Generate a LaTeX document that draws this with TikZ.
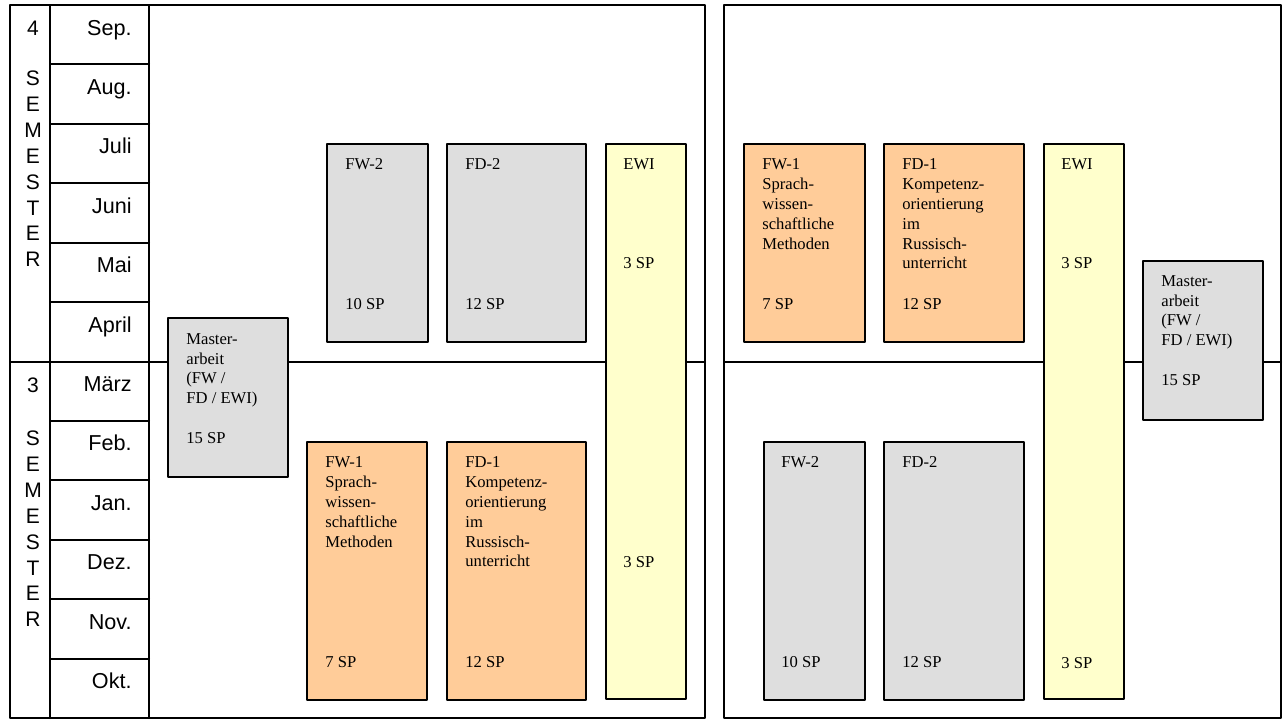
\documentclass[tikz,border=0pt]{standalone}
\usepackage{fontspec}
\setmainfont{Liberation Serif}
\newfontfamily\arial{Liberation Sans}
\definecolor{modgrau}{HTML}{DEDEDE}
\definecolor{modorange}{HTML}{FFCC99}
\definecolor{modgelb}{HTML}{FFFFCC}
\tikzset{
	rahmen/.style={draw=black, line width=1pt},
	modul/.style={draw=black, line width=1pt},
	txt/.style={anchor=north west, inner sep=0pt, align=left, font=\fontsize{8.3}{9.9}\selectfont},
	sp/.style={anchor=base west, inner sep=0pt, font=\fontsize{8.3}{9.9}\selectfont},
	monat/.style={anchor=base east, inner sep=0pt, font=\arial\fontsize{10.8}{12}\selectfont},
	buchst/.style={anchor=base, inner sep=0pt, font=\arial\fontsize{10.5}{12}\selectfont}
}
\begin{document}
\begin{tikzpicture}[x=0.5pt, y=-0.5pt, line join=round, line cap=round]
	\useasboundingbox (0,0) rectangle (1284,720);
	\def \rh{59.42};
	% Raster
	\draw[rahmen] (10,5) rectangle (705,718);
	\draw[rahmen] (724,5) rectangle (1281,718);
	\draw[rahmen] (50,5) -- (50,718) (149,5) -- (149,718);
	\draw[rahmen] (10,361.5) -- (705,361.5) (724,361.5) -- (1281,361.5);
	\foreach \i in {1,...,11}
		\draw[rahmen] (50,{5+\i*\rh}) -- (149,{5+\i*\rh});
	\foreach \m [count=\i] in {Sep.,Aug.,Juli,Juni,Mai,April,März,Feb.,Jan.,Dez.,Nov.,Okt.}
		\node[monat] (m\i) at (132,{5+(\i-1)*\rh+30}) {\m};
	\node[buchst] (sem4) at (33,35) {4};
	\node[buchst] (sem3) at (33,{5+6*\rh+31}) {3};
	\foreach \l [count=\i] in {S,E,M,E,S,T,E,R} {
		\node[buchst] (ob\i) at (33,{85.5+(\i-1)*25.9}) {\l};
		\node[buchst] (un\i) at (33,{445.5+(\i-1)*25.9}) {\l};
	}
	% linke Seite
	\draw[modul, fill=modgrau] (168,318) rectangle (288,477);
	\node[txt] (maa) at (186,333) {Master-\\arbeit\\(FW /\\FD / EWI)\\[9.9pt]15 SP};
	\draw[modul, fill=modgrau] (327,144) rectangle (428,342);
	\node[txt] (fw2a) at (345,158.5) {FW-2};
	\node[sp] (fw2a-sp) at (345,309) {10 SP};
	\draw[modul, fill=modgrau] (447,144) rectangle (586,342);
	\node[txt] (fd2a) at (465,158.5) {FD-2};
	\node[sp] (fd2a-sp) at (465,309) {12 SP};
	\draw[modul, fill=modgelb] (606,144) rectangle (686,699);
	\node[txt] (ewia) at (623,158.5) {EWI};
	\node[sp] (ewia-sp1) at (623,268) {3 SP};
	\node[sp] (ewia-sp2) at (623,567) {3 SP};
	\draw[modul, fill=modorange] (307,442) rectangle (427,700);
	\node[txt] (fw1a) at (325,456.5) {FW-1\\Sprach-\\wissen-\\schaftliche\\Methoden};
	\node[sp] (fw1a-sp) at (325,667) {7 SP};
	\draw[modul, fill=modorange] (447,442) rectangle (586,700);
	\node[txt] (fd1a) at (465,456.5) {FD-1\\Kompetenz-\\orientierung\\im\\Russisch-\\unterricht};
	\node[sp] (fd1a-sp) at (465,667) {12 SP};
	% rechte Seite
	\draw[modul, fill=modorange] (744,144) rectangle (865,342);
	\node[txt] (fw1b) at (762,158.5) {FW-1\\Sprach-\\wissen-\\schaftliche\\Methoden};
	\node[sp] (fw1b-sp) at (762,309) {7 SP};
	\draw[modul, fill=modorange] (884,144) rectangle (1024,342);
	\node[txt] (fd1b) at (902,158.5) {FD-1\\Kompetenz-\\orientierung\\im\\Russisch-\\unterricht};
	\node[sp] (fd1b-sp) at (902,309) {12 SP};
	\draw[modul, fill=modgelb] (1044,144) rectangle (1124,699);
	\node[txt] (ewib) at (1061,158.5) {EWI};
	\node[sp] (ewib-sp1) at (1061,268) {3 SP};
	\node[sp] (ewib-sp2) at (1061,668) {3 SP};
	\draw[modul, fill=modgrau] (1143,261) rectangle (1263,420);
	\node[txt] (mab) at (1161,275) {Master-\\arbeit\\(FW /\\FD / EWI)\\[9.9pt]15 SP};
	\draw[modul, fill=modgrau] (764,442) rectangle (865,700);
	\node[txt] (fw2b) at (781,456.5) {FW-2};
	\node[sp] (fw2b-sp) at (781,667) {10 SP};
	\draw[modul, fill=modgrau] (884,442) rectangle (1024,700);
	\node[txt] (fd2b) at (902,456.5) {FD-2};
	\node[sp] (fd2b-sp) at (902,667) {12 SP};
\end{tikzpicture}
\end{document}
